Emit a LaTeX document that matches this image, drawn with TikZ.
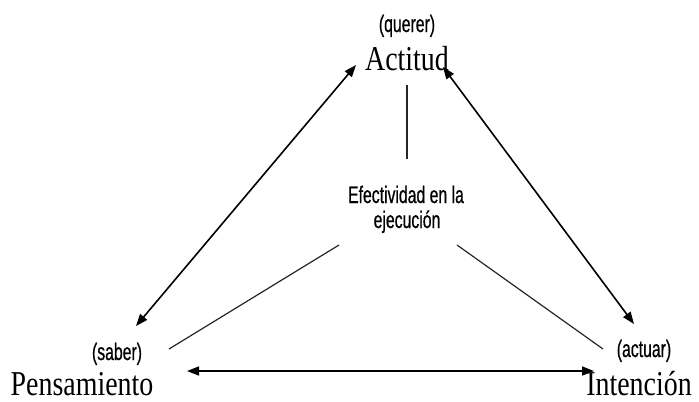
\documentclass[tikz,border=0pt]{standalone}
\usepackage{fontspec}
\usetikzlibrary{arrows.meta}
\newfontfamily\bigserif[FakeStretch=0.8]{Liberation Serif}
\newfontfamily\smallsans[FakeStretch=0.66,FakeBold=0.6]{Liberation Sans}
\tikzset{
  bigtext/.style={anchor=base, inner sep=0pt, font=\bigserif\fontsize{35}{35}\selectfont},
  smalltext/.style={anchor=base, inner sep=0pt, font=\smallsans\fontsize{24}{26}\selectfont},
  twoway/.style={line width=1.6bp, {Triangle[length=12bp,width=9bp]}-{Triangle[length=12bp,width=9bp]}},
  spoke/.style={line width=1.2bp, draw=black!85}
}
\begin{document}
\begin{tikzpicture}[x=1bp,y=-1bp]
\useasboundingbox (0,0) rectangle (699,401);
% labels
\node[smalltext] (querer) at (407,32) {(querer)};
\node[bigtext] (actitud) at (407,70) {Actitud};
\node[smalltext] (saber) at (117,360) {(saber)};
\node[bigtext] (pensamiento) at (82,395) {Pensamiento};
\node[smalltext] (actuar) at (644,357) {(actuar)};
\node[bigtext] (intencion) at (639,395) {Intención};
\node[smalltext] (efect1) at (406,203) {Efectividad en la};
\node[smalltext] (efect2) at (407,228) {ejecución};
% arrow ends
\coordinate (aL) at (356,65);
\coordinate (pT) at (136,326);
\coordinate (aR) at (443,67);
\coordinate (iT) at (634,324);
\coordinate (pR) at (187,371);
\coordinate (iL) at (594,371);
% spoke ends
\coordinate (vTop) at (407,85);
\coordinate (vBot) at (407,159);
\coordinate (lOut) at (169,349);
\coordinate (lIn) at (339,245);
\coordinate (rIn) at (457,245);
\coordinate (rOut) at (603,349);
% connectors
\draw[twoway] (aL) -- (pT);
\draw[twoway] (aR) -- (iT);
\draw[twoway] (pR) -- (iL);
\draw[spoke] (vTop) -- (vBot);
\draw[spoke] (lOut) -- (lIn);
\draw[spoke] (rIn) -- (rOut);
\end{tikzpicture}
\end{document}
